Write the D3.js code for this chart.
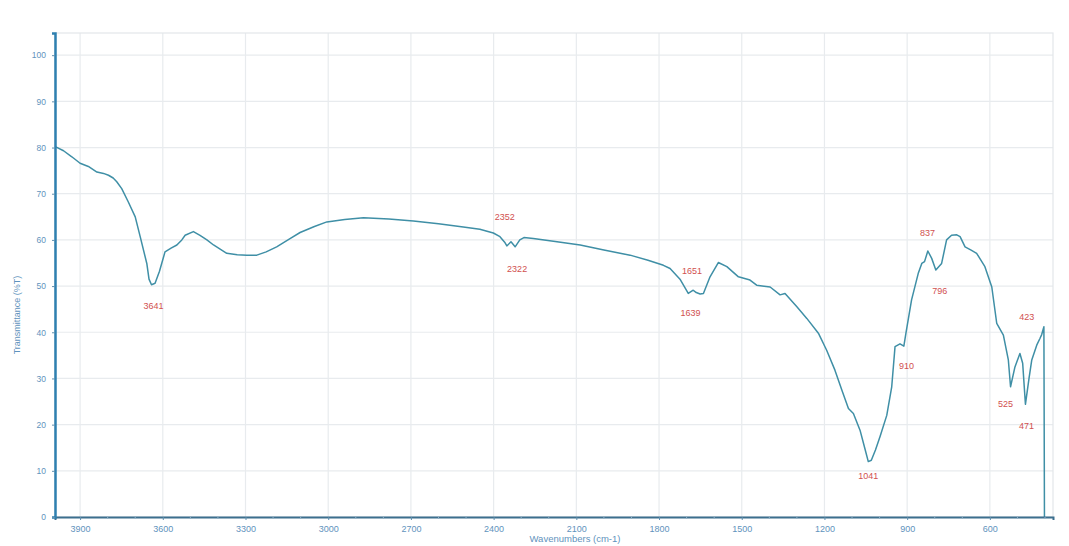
<!DOCTYPE html>
<html>
<head>
<meta charset="utf-8">
<script src="https://cdn.jsdelivr.net/npm/d3@7/dist/d3.min.js"></script>
<style>
  html, body { margin: 0; padding: 0; background: #fff; }
  svg { display: block; font-family: "Liberation Sans", "DejaVu Sans", sans-serif; }
</style>
</head>
<body>
<svg id="chart" width="1069" height="546"></svg>
<script>
// FTIR spectrum: wavenumber (cm-1) and transmittance (%T)
const wavenumbers = [3990, 3960, 3930, 3900, 3870, 3839, 3815, 3797, 3780, 3767, 3749, 3725, 3700, 3682,
  3658, 3650, 3641, 3628, 3612, 3604, 3592, 3570, 3549, 3531, 3519, 3489, 3465, 3440, 3416, 3368,
  3330, 3295, 3259, 3225, 3187, 3140, 3102, 3050, 3005, 2940, 2872, 2780, 2691, 2600, 2510,
  2450, 2401, 2377, 2360, 2352, 2337, 2322, 2305, 2290, 2256, 2170, 2086, 2000, 1905, 1840,
  1784, 1760, 1724, 1694, 1676, 1665, 1651, 1639, 1615, 1585, 1554, 1512, 1470, 1446, 1397,
  1361, 1343, 1300, 1264, 1222, 1192, 1162, 1137, 1113, 1095, 1071, 1052, 1041, 1030, 1015,
  998, 974, 956, 944, 926, 912, 904, 884, 860, 847, 837, 825, 811, 796, 775, 757, 739,
  720, 708, 690, 668, 648, 618, 593, 575, 551, 533, 525, 509, 491, 481, 471, 458, 448, 430,
  418, 412, 404, 402];
const transmittance = [80.2, 79.3, 78.0, 76.6, 75.9, 74.7, 74.4, 74.0, 73.4, 72.6, 71.1, 68.2, 65.0, 60.7,
  54.9, 51.5, 50.3, 50.6, 53.2, 54.9, 57.4, 58.2, 58.9, 60.0, 61.0, 61.8, 61.0, 60.0, 58.9, 57.1,
  56.8, 56.7, 56.7, 57.4, 58.5, 60.2, 61.6, 62.9, 63.9, 64.4, 64.8, 64.5, 64.1, 63.5, 62.8,
  62.3, 61.5, 60.7, 59.5, 58.7, 59.6, 58.5, 60.0, 60.5, 60.3, 59.6, 58.9, 57.8, 56.7, 55.6,
  54.5, 53.8, 51.5, 48.4, 49.1, 48.6, 48.3, 48.4, 52.0, 55.1, 54.2, 52.0, 51.3, 50.2, 49.8,
  48.1, 48.4, 45.5, 43.0, 39.8, 36.1, 31.8, 27.5, 23.5, 22.4, 18.8, 14.5, 12.0, 12.3, 14.5,
  17.5, 22.0, 28.2, 36.9, 37.5, 37.0, 40.0, 47.0, 52.7, 54.9, 55.3, 57.6, 56.0, 53.5, 54.9, 60.0, 61.0,
  61.1, 60.7, 58.5, 57.8, 57.1, 54.2, 49.8, 41.9, 39.4, 34.0, 28.2, 32.5, 35.4, 33.3, 24.4, 30.0, 34.0, 37.2,
  38.7, 39.5, 41.2, 0];

// Annotated band positions
const peakLabels = ["3641", "2352", "2322", "1651", "1639", "1041", "910", "837", "796", "525", "471", "423"];
const peakWavenumbers = [3641, 2352, 2322, 1651, 1639, 1041, 910, 837, 796, 525, 471, 423];

// Axis ticks
const xTickValues = [3900, 3600, 3300, 3000, 2700, 2400, 2100, 1800, 1500, 1200, 900, 600];
const yTickValues = [0, 10, 20, 30, 40, 50, 60, 70, 80, 90, 100];

// Layout
const plot = { left: 55, right: 1053, top: 33, bottom: 517 };
const labelOffsets = [[2, 24], [-2, -26], [2, 25], [-8, -20], [-13, 23], [0, 17], [2, 26], [3, -26], [4, 24], [-5, 20], [1, 25], [-12, -21]];

const svg = d3.select("#chart");

const x = d3.scaleLinear().domain([3991, 371]).range([plot.left, plot.right]);
const y = d3.scaleLinear().domain([0, 104.8]).range([plot.bottom, plot.top]);

const data = wavenumbers.map((w, i) => ({ w, t: transmittance[i] }));

// Grid
const grid = svg.append("g");
grid.selectAll("line.v").data(xTickValues).join("line")
  .attr("x1", d => x(d)).attr("x2", d => x(d))
  .attr("y1", plot.top).attr("y2", plot.bottom)
  .attr("stroke", "#e8ebee").attr("stroke-width", 1.2);
grid.selectAll("line.h").data(yTickValues.filter(v => v > 0)).join("line")
  .attr("x1", plot.left).attr("x2", plot.right)
  .attr("y1", d => y(d)).attr("y2", d => y(d))
  .attr("stroke", "#e8ebee").attr("stroke-width", 1.2);
// Plot frame
svg.append("rect")
  .attr("x", plot.left).attr("y", plot.top)
  .attr("width", plot.right - plot.left).attr("height", plot.bottom - plot.top)
  .attr("fill", "none").attr("stroke", "#e3e6ea").attr("stroke-width", 1.2);

// Spectrum trace
const line = d3.line().x(d => x(d.w)).y(d => y(d.t));
svg.append("path")
  .datum(data)
  .attr("d", line)
  .attr("fill", "none")
  .attr("stroke", "#3f8fa6")
  .attr("stroke-width", 1.5)
  .attr("stroke-linejoin", "round");

// Axes
const xAxis = d3.axisBottom(x).tickValues(xTickValues).tickSize(3).tickPadding(6).tickFormat(d3.format("d"));
const gx = svg.append("g").attr("transform", `translate(0,${plot.bottom})`).call(xAxis);
gx.select(".domain").attr("stroke", "#3c6f8e").attr("stroke-width", 2);
gx.selectAll(".tick line").attr("stroke", "#5f8fae");
gx.selectAll(".tick text").attr("fill", "#5f93bd").attr("font-size", 9);

const minor = d3.range(3900, 371, -100).filter(v => v % 300 !== 0);
svg.append("g").selectAll("line").data(minor).join("line")
  .attr("x1", d => x(d)).attr("x2", d => x(d))
  .attr("y1", plot.bottom).attr("y2", plot.bottom + 2)
  .attr("stroke", "#8fb0c6");

const yAxis = d3.axisLeft(y).tickValues(yTickValues).tickSize(3).tickPadding(6);
const gy = svg.append("g").attr("transform", `translate(${plot.left},0)`).call(yAxis);
gy.select(".domain").attr("stroke", "#2f80b0").attr("stroke-width", 2.5);
gy.selectAll(".tick line").attr("stroke", "#5f8fae");
gy.selectAll(".tick text").attr("fill", "#5f93bd").attr("font-size", 8.5);

// Axis titles
svg.append("text")
  .attr("transform", `translate(20,${(plot.top + plot.bottom) / 2 + 40}) rotate(-90)`)
  .attr("text-anchor", "middle")
  .attr("fill", "#5f93bd").attr("font-size", 9)
  .text("Transmittance (%T)");
svg.append("text")
  .attr("x", 575).attr("y", 542)
  .attr("text-anchor", "middle")
  .attr("fill", "#5f93bd").attr("font-size", 9.5)
  .text("Wavenumbers (cm-1)");

// Peak annotations, anchored on the trace
const tAt = w => {
  const i = data.findIndex(d => d.w <= w);
  if (i <= 0) return data[0].t;
  const a = data[i - 1], b = data[i];
  return a.t + (b.t - a.t) * (a.w - w) / (a.w - b.w);
};
svg.append("g").selectAll("text").data(peakLabels).join("text")
  .attr("x", (d, i) => x(peakWavenumbers[i]) + labelOffsets[i][0])
  .attr("y", (d, i) => y(tAt(peakWavenumbers[i])) + labelOffsets[i][1])
  .attr("text-anchor", "middle")
  .attr("fill", "#d1504f").attr("font-size", 9)
  .text(d => d);
</script>
</body>
</html>
